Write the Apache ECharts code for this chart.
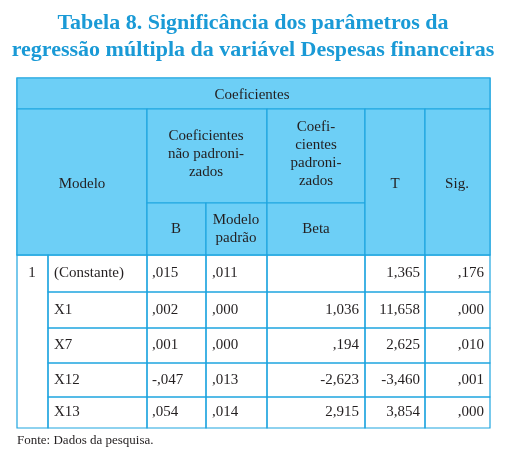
<!DOCTYPE html>
<html><head><meta charset="utf-8">
<script src="https://cdn.jsdelivr.net/npm/echarts@6/dist/echarts.min.js"></script>
<style>html,body{margin:0;background:#fff}#c{width:505px;height:471px}</style>
</head><body><div id="c"></div>
<script>
var titleLines = ['Tabela 8. Significância dos parâmetros da', 'regressão múltipla da variável Despesas financeiras'];
var modelNames = ['(Constante)', 'X1', 'X7', 'X12', 'X13'];
var colB = [',015', ',002', ',001', '-,047', ',054'];
var colSE = [',011', ',000', ',000', ',013', ',014'];
var colBeta = ['', '1,036', ',194', '-2,623', '2,915'];
var colT = ['1,365', '11,658', '2,625', '-3,460', '3,854'];
var colSig = [',176', ',000', ',010', ',001', ',000'];
var source = 'Fonte: Dados da pesquisa.';

var FILL = '#6dcff6', LINE = '#1fa5e0', FONT = '"Liberation Serif", serif';
var xs = [17, 48, 147, 206, 267, 365, 425, 490];
var yTop = 78, yH1 = 109, ySub = 203, yData = 255;
var rowsY = [255, 292, 328, 363, 397, 428];
var g = [];
function rect(x, y, w, h, fill) {
  g.push({type: 'rect', shape: {x: x, y: y, width: w, height: h}, style: {fill: fill || 'none', stroke: LINE, lineWidth: 1.2}});
}
function txt(s, x, y, align, opt) {
  g.push({type: 'text', x: x, y: y, style: Object.assign({text: s, font: '15px ' + FONT, fill: '#231f20', align: align || 'center', verticalAlign: 'middle', lineHeight: 18}, opt || {})});
}
// titles
titleLines.forEach(function (t, i) {
  txt(t, 253, 23 + i * 27, 'center', {font: 'bold 22px ' + FONT, fill: '#1a9ad6'});
});
// header
rect(xs[0], yTop, xs[7] - xs[0], yData - yTop, FILL);
rect(xs[0], yTop, xs[7] - xs[0], yH1 - yTop, FILL);
rect(xs[0], yH1, xs[2] - xs[0], yData - yH1, FILL);
rect(xs[2], yH1, xs[4] - xs[2], ySub - yH1, FILL);
rect(xs[2], ySub, xs[3] - xs[2], yData - ySub, FILL);
rect(xs[3], ySub, xs[4] - xs[3], yData - ySub, FILL);
rect(xs[4], yH1, xs[5] - xs[4], ySub - yH1, FILL);
rect(xs[4], ySub, xs[5] - xs[4], yData - ySub, FILL);
rect(xs[5], yH1, xs[6] - xs[5], yData - yH1, FILL);
rect(xs[6], yH1, xs[7] - xs[6], yData - yH1, FILL);
txt('Coeficientes', 252, 95);
txt('Modelo', 82, 184);
txt('Coeficientes\nnão padroni-\nzados', 206, 154);
txt('Coefi-\ncientes\npadroni-\nzados', 316, 154);
txt('T', 395, 184);
txt('Sig.', 457, 184);
txt('B', 176, 229);
txt('Modelo\npadrão', 236, 229);
txt('Beta', 316, 229);
// data rows
for (var r = 0; r < modelNames.length; r++) {
  var y0 = rowsY[r], y1 = rowsY[r + 1], ym = (y0 + y1) / 2;
  if (r === 0) rect(xs[0], y0, xs[1] - xs[0], rowsY[5] - y0);
  for (var c = 1; c < 7; c++) rect(xs[c], y0, xs[c + 1] - xs[c], y1 - y0);
  txt(modelNames[r], 54, ym, 'left');
  txt(colB[r], 152, ym, 'left');
  txt(colSE[r], 212, ym, 'left');
  txt(colBeta[r], 359, ym, 'right');
  txt(colT[r], 420, ym, 'right');
  txt(colSig[r], 484, ym, 'right');
}
txt('1', 32, (rowsY[0] + rowsY[1]) / 2);
txt(source, 17, 441, 'left', {font: '13px ' + FONT});

var chart = echarts.init(document.getElementById('c'));
chart.setOption({graphic: g});
</script></body></html>
